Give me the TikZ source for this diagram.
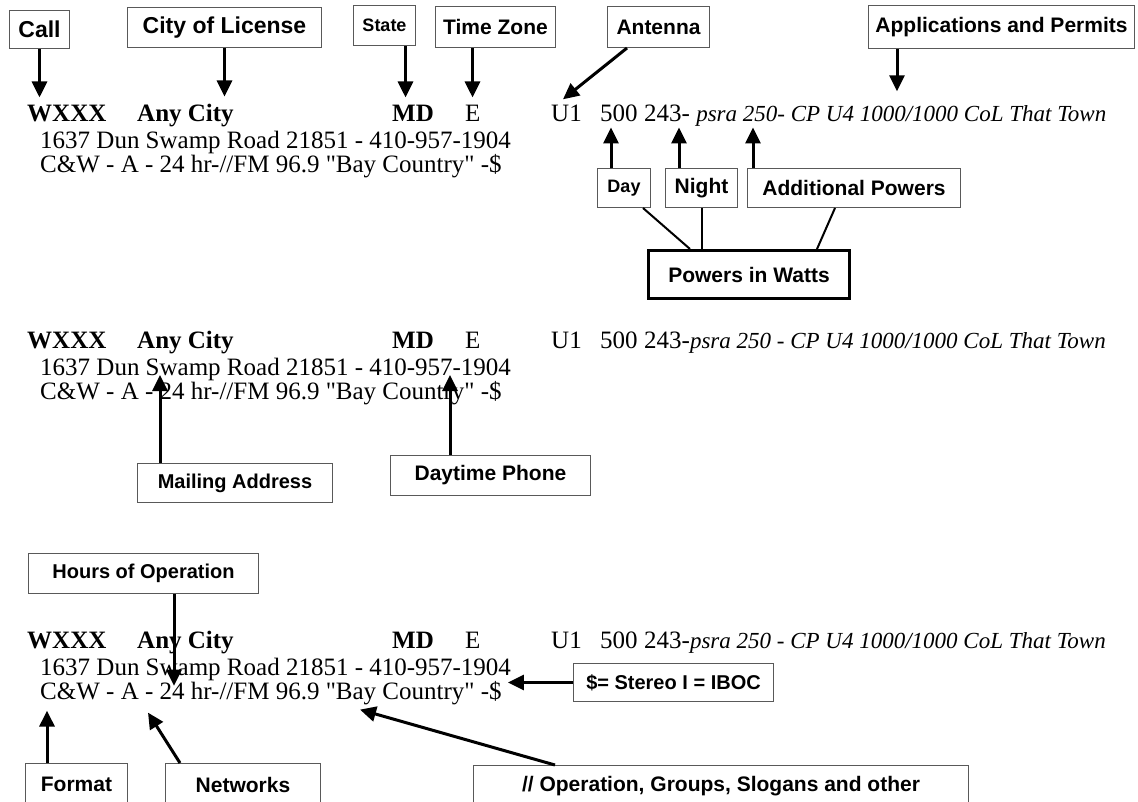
\documentclass[tikz,border=0pt]{standalone}
\usepackage{fontspec}
\setmainfont{Liberation Serif}
\setsansfont{Liberation Sans}
\usetikzlibrary{arrows.meta}

\newcommand{\rowfont}{\fontsize{25}{28}\selectfont}
\newcommand{\tagsize}[1]{\fontsize{#1}{#1}\selectfont}

\begin{document}
\begin{tikzpicture}[x=1pt, y=-1pt,
  tag/.style={draw=black!65, line width=1pt, rectangle, anchor=north west, inner sep=0pt,
    font=\sffamily\bfseries\tagsize{21}},
  pointer/.style={-{Triangle[width=15pt,length=16pt]}, line width=3pt},
  joiner/.style={line width=2pt},
  entry/.style={anchor=base west, inner sep=0pt, font=\rowfont}]
\useasboundingbox (0,0) rectangle (1138,801);

% the same listing three times
\foreach \b/\y/\tail in {a/121/{- \textit{\fontsize{23}{26}\selectfont psra 250- CP U4 1000/1000 CoL That Town}},
                         b/348/{-\textit{\fontsize{23}{26}\selectfont psra 250 - CP U4 1000/1000 CoL That Town}},
                         c/648/{-\textit{\fontsize{23}{26}\selectfont psra 250 - CP U4 1000/1000 CoL That Town}}}{
  \node[entry, font=\rowfont\bfseries] (wxxx\b) at (27,\y) {WXXX};
  \node[entry, font=\rowfont\bfseries] (city\b) at (137,\y) {Any City};
  \node[entry, font=\rowfont\bfseries] (md\b) at (392,\y) {MD};
  \node[entry] (tz\b) at (465,\y) {E};
  \node[entry] (u1\b) at (551,\y) {U1};
  \node[entry] (day\b) at (600,\y) {500};
  \node[entry] (night\b) at (644,\y) {243\tail};
  \node[entry] (addr\b) at (40,\y+27) {1637 Dun Swamp Road 21851 - 410-957-1904};
  \node[entry] (fmt\b) at (40,\y+51) {C\&W - A - 24 hr-//FM 96.9 \textquotedbl Bay Country\textquotedbl{} -\$};
}

% top labels
\node[tag, minimum width=60pt, minimum height=38pt, font=\sffamily\bfseries\tagsize{23}] (callbox) at (9,10) {Call};
\node[tag, minimum width=194pt, minimum height=40pt, font=\sffamily\bfseries\tagsize{23}] (citybox) at (127,7) {City of License};
\node[tag, minimum width=62pt, minimum height=40pt, font=\sffamily\bfseries\tagsize{18}] (statebox) at (353,5) {State};
\node[tag, minimum width=120pt, minimum height=41pt] (tzbox) at (435,6) {Time Zone};
\node[tag, minimum width=102pt, minimum height=41pt] (antbox) at (607,6) {Antenna};
\node[tag, minimum width=266pt, minimum height=43pt] (appbox) at (868,5) {Applications and Permits};

\draw[pointer] (callbox.south) -- ([yshift=7pt]callbox.south |- wxxxa.north);
\draw[pointer] (citybox.south) -- ([yshift=7pt]citybox.south |- citya.north);
\draw[pointer] ([xshift=21pt]statebox.south) -- ([xshift=21pt,yshift=7pt]statebox.south |- mda.north);
\draw[pointer] ([xshift=-23pt]tzbox.south) -- ([xshift=-23pt,yshift=7pt]tzbox.south |- tza.north);
\draw[pointer] ([xshift=20pt]antbox.south west) -- ([xshift=12pt,yshift=5pt]u1a.north west);
\draw[pointer] ([xshift=29pt]appbox.south west) -- ([xshift=29pt,yshift=13pt]appbox.south west |- nighta.north);

% powers
\node[tag, minimum width=53pt, minimum height=39pt, font=\sffamily\bfseries\tagsize{18}] (daybox) at (597,168) {Day};
\node[tag, minimum width=72pt, minimum height=39pt] (nightbox) at (665,168) {Night};
\node[tag, minimum width=213pt, minimum height=39pt] (addbox) at (747,168) {Additional Powers};
\node[tag, draw=black, line width=3pt, minimum width=201pt, minimum height=48pt] (wattbox) at (647,249) {Powers in Watts};

\draw[pointer] ([xshift=14pt]daybox.north west) -- ([xshift=14pt,yshift=-6pt]daybox.north west |- daya.south);
\draw[pointer] ([xshift=14pt]nightbox.north west) -- ([xshift=14pt,yshift=-6pt]nightbox.north west |- daya.south);
\draw[pointer] ([xshift=6pt]addbox.north west) -- ([xshift=6pt,yshift=-6pt]addbox.north west |- daya.south);
\draw[joiner] ([xshift=-8pt]daybox.south east) -- ([xshift=43pt]wattbox.north west);
\draw[joiner] (nightbox.south) -- (nightbox.south |- wattbox.north);
\draw[joiner] ([xshift=88pt]addbox.south west) -- ([xshift=-34pt]wattbox.north east);

% middle labels
\node[tag, minimum width=195pt, minimum height=39pt, font=\sffamily\bfseries\tagsize{20}] (mailbox) at (137,463) {Mailing Address};
\node[tag, minimum width=200pt, minimum height=40pt] (phonebox) at (390,455) {Daytime Phone};

\draw[pointer] ([xshift=23pt]mailbox.north west) -- ([xshift=23pt]mailbox.north west |- addrb.base);
\draw[pointer] ([xshift=60pt]phonebox.north west) -- ([xshift=60pt]phonebox.north west |- addrb.base);

% bottom labels
\node[tag, minimum width=230pt, minimum height=40pt, font=\sffamily\bfseries\tagsize{20}] (hoursbox) at (28,553) {Hours of Operation};
\node[tag, minimum width=200pt, minimum height=38pt, font=\sffamily\bfseries\tagsize{20}] (stereobox) at (573,663) {\$= Stereo I = IBOC};
\node[tag, minimum width=102pt, minimum height=42pt] (formatbox) at (25,763) {Format};
\node[tag, minimum width=155pt, minimum height=42pt] (netbox) at (165,763) {Networks};
\node[tag, minimum width=495pt, minimum height=42pt] (opbox) at (473,765) {// Operation, Groups, Slogans and other};

\draw[pointer] ([xshift=146pt]hoursbox.south west) -- ([xshift=146pt,yshift=-5pt]hoursbox.south west |- fmtc.north);
\draw[pointer] (stereobox.west) -- ([xshift=6pt]stereobox.west -| fmtc.east);
\draw[pointer] ([xshift=22pt]formatbox.north west) -- ([xshift=22pt,yshift=-6pt]formatbox.north west |- fmtc.south);
\draw[pointer] ([xshift=15pt]netbox.north west) -- ([xshift=-17pt,yshift=-8pt]netbox.north west |- fmtc.south);
\draw[pointer] ([xshift=82pt]opbox.north west) -- ([xshift=-113pt,yshift=-5pt]opbox.north west |- fmtc.south);
\end{tikzpicture}
\end{document}
